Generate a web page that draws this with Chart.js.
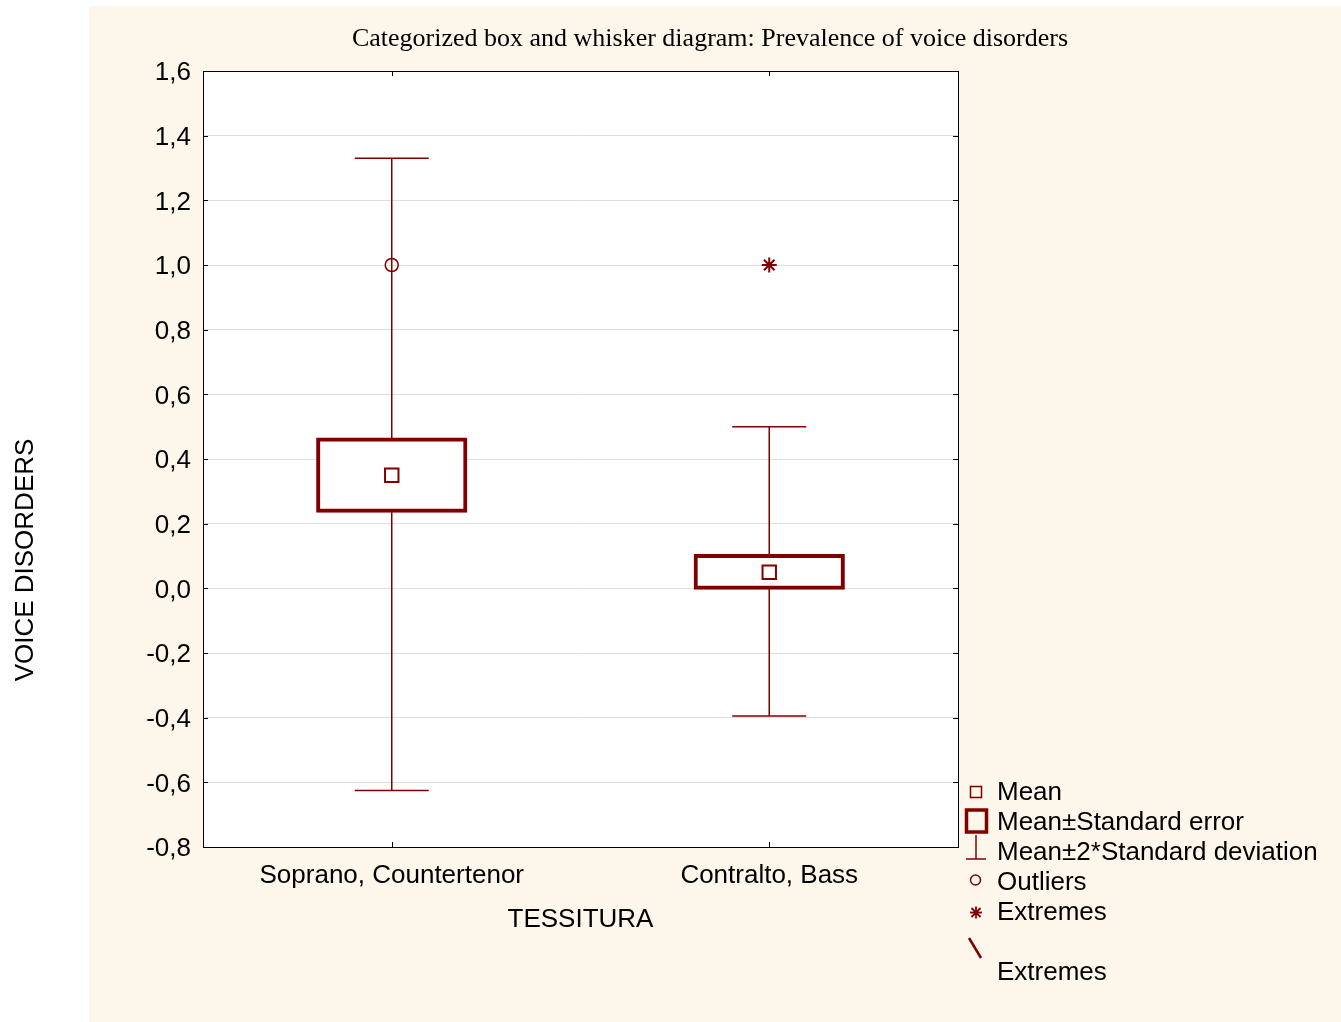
<!DOCTYPE html>
<html>
<head>
<meta charset="utf-8">
<title>Prevalence of voice disorders</title>
<script src="https://cdn.jsdelivr.net/npm/chart.js@4.4.1/dist/chart.umd.min.js"></script>
<style>
    html, body { margin: 0; padding: 0; background: #fff; }
    #chart { display: block; }
</style>
</head>
<body>
<canvas id="chart" width="1341" height="1022"></canvas>
<script>
// Categorized box and whisker diagram
// ===================================

var categories = ['Soprano, Countertenor', 'Contralto, Bass'];
var means      = [0.35, 0.05];
var seLow      = [0.24, 0.00];   // Mean - Standard error
var seHigh     = [0.46, 0.10];   // Mean + Standard error
var sdLow      = [-0.625, -0.395]; // Mean - 2*Standard deviation
var sdHigh     = [1.33, 0.50];   // Mean + 2*Standard deviation
var outliers   = [1.0, null];
var extremes   = [null, 1.0];
var yTickValues = [-0.8, -0.6, -0.4, -0.2, 0, 0.2, 0.4, 0.6, 0.8, 1.0, 1.2, 1.4, 1.6];
var legendLabels = ['Mean', 'Mean\u00b1Standard error', 'Mean\u00b12*Standard deviation', 'Outliers', 'Extremes', 'Extremes'];

var RED = '#800000';
var PANEL = '#fdf6ea';
var SANS = "'Liberation Sans', Arial, sans-serif";
var SERIF = "'Liberation Serif', 'Times New Roman', serif";

function formatTick(v) {
    if (Math.abs(v) < 1e-9) { v = 0; }
    return v.toFixed(1).replace('.', ',');
}

function line(ctx, x1, y1, x2, y2) {
    ctx.beginPath();
    ctx.moveTo(x1, y1);
    ctx.lineTo(x2, y2);
    ctx.stroke();
}

var boxPlotExtras = {
    id: 'boxPlotExtras'
    , beforeDraw: function (chart) {
        var ctx = chart.ctx, a = chart.chartArea;
        ctx.save();
        ctx.fillStyle = '#fff';
        ctx.fillRect(0, 0, chart.width, chart.height);
        ctx.fillStyle = PANEL;
        ctx.fillRect(89, 6, chart.width - 89, chart.height - 6);
        ctx.fillStyle = '#fff';
        ctx.fillRect(a.left, a.top, a.right - a.left, a.bottom - a.top);
        ctx.restore();
    }
    , beforeDatasetsDraw: function (chart) {
        // whiskers: Mean±2*SD, drawn under the boxes
        var ctx = chart.ctx, xs = chart.scales.x, ys = chart.scales.y;
        var capHalf = (xs.width / categories.length) * 0.098;
        ctx.save();
        ctx.strokeStyle = RED;
        ctx.lineWidth = 1.5;
        categories.forEach(function (c, i) {
            var x = xs.getPixelForValue(i);
            var yLo = ys.getPixelForValue(sdLow[i]);
            var yHi = ys.getPixelForValue(sdHigh[i]);
            line(ctx, x, yLo, x, yHi);
            line(ctx, x - capHalf, yLo, x + capHalf, yLo);
            line(ctx, x - capHalf, yHi, x + capHalf, yHi);
        });
        ctx.restore();
    }
    , afterDraw: function (chart) {
        var ctx = chart.ctx, a = chart.chartArea, xs = chart.scales.x, ys = chart.scales.y;
        ctx.save();

        // frame and inward tick marks
        ctx.strokeStyle = '#000';
        ctx.lineWidth = 1;
        ctx.strokeRect(a.left + 0.5, a.top + 0.5, a.right - a.left, a.bottom - a.top);
        ys.ticks.forEach(function (t) {
            var y = Math.round(ys.getPixelForValue(t.value)) + 0.5;
            line(ctx, a.left, y, a.left + 5, y);
            line(ctx, a.right - 5, y, a.right, y);
        });
        categories.forEach(function (c, i) {
            var x = Math.round(xs.getPixelForValue(i)) + 0.5;
            line(ctx, x, a.bottom, x, a.bottom - 5);
            line(ctx, x, a.top, x, a.top + 5);
        });

        // y axis title
        ctx.fillStyle = '#000';
        ctx.font = '26px ' + SANS;
        ctx.textAlign = 'center';
        ctx.textBaseline = 'middle';
        ctx.translate(26, 560);
        ctx.rotate(-Math.PI / 2);
        ctx.fillText('VOICE DISORDERS', 0, 0);
        ctx.setTransform(1, 0, 0, 1, 0, 0);

        // legend
        var sx = 976, tx = 997;
        var rows = [792, 822, 852, 882, 912, 972];
        ctx.strokeStyle = RED;
        ctx.lineWidth = 1.5;
        ctx.strokeRect(sx - 5.5, rows[0] - 5.5, 11, 11);
        ctx.lineWidth = 3.5;
        ctx.strokeRect(sx - 9.5, 810, 20, 22);
        ctx.lineWidth = 1.5;
        line(ctx, sx, 835, sx, 859);
        line(ctx, sx - 10, 859, sx + 10, 859);
        ctx.beginPath();
        ctx.arc(sx - 0.5, 880, 5, 0, Math.PI * 2);
        ctx.stroke();
        ctx.lineWidth = 1.8;
        line(ctx, sx - 6, 912.5, sx + 6, 912.5);
        line(ctx, sx, 906.5, sx, 918.5);
        line(ctx, sx - 4.5, 908, sx + 4.5, 917);
        line(ctx, sx - 4.5, 917, sx + 4.5, 908);
        ctx.lineWidth = 2.5;
        line(ctx, sx - 7, 938, sx + 5, 958);

        ctx.fillStyle = '#000';
        ctx.font = '26px ' + SANS;
        ctx.textAlign = 'left';
        ctx.textBaseline = 'middle';
        legendLabels.forEach(function (lbl, i) {
            ctx.fillText(lbl, tx, rows[i] + 1);
        });
        ctx.restore();
    }
};

var chart = new Chart(document.getElementById('chart'), {
    type: 'bar'
    , data: {
        labels: categories
        , datasets: [
            {
                type: 'line', label: 'Mean', data: means, showLine: false
                , pointStyle: 'rect', pointRadius: 9.5, pointBorderWidth: 2
                , pointBorderColor: RED, pointBackgroundColor: '#fff', order: 0
            }
            , {
                type: 'line', label: 'Outliers', data: outliers, showLine: false
                , pointStyle: 'circle', pointRadius: 6.5, pointBorderWidth: 1.5
                , pointBorderColor: RED, pointBackgroundColor: 'rgba(0,0,0,0)', order: 0
            }
            , {
                type: 'line', label: 'Extremes', data: extremes, showLine: false
                , pointStyle: 'star', pointRadius: 7.5, pointBorderWidth: 2
                , pointBorderColor: RED, pointBackgroundColor: RED, order: 0
            }
            , {
                type: 'bar', label: 'Mean\u00b1Standard error'
                , data: seLow.map(function (v, i) { return [v, seHigh[i]]; })
                , backgroundColor: '#fff', borderColor: RED, borderWidth: 4
                , borderSkipped: false, inflateAmount: 2
                , barPercentage: 0.39, categoryPercentage: 1, order: 1
            }
        ]
    }
    , plugins: [boxPlotExtras]
    , options: {
        responsive: false
        , animation: false
        , events: []
        , layout: { padding: { left: 79, right: 0, top: 0, bottom: 75 } }
        , plugins: {
            legend: { display: false }
            , tooltip: { enabled: false }
            , title: {
                display: true
                , text: 'Categorized box and whisker diagram: Prevalence of voice disorders'
                , color: '#000'
                , font: { family: SERIF, size: 26, weight: 'normal' }
                , padding: { top: 23.4, bottom: 16.4 }
            }
        }
        , scales: {
            x: {
                type: 'category'
                , offset: true
                , grid: { display: false }
                , border: { display: false }
                , ticks: { color: '#000', font: { family: SANS, size: 26 }, padding: 5, maxRotation: 0, autoSkip: false }
                , title: {
                    display: true, text: 'TESSITURA', color: '#000'
                    , font: { family: SANS, size: 26 }, padding: { top: 0, bottom: 11.4 }
                }
                , afterFit: function (s) { s.height = 100; }
            }
            , y: {
                position: 'left'
                , min: -0.8
                , max: 1.6
                , afterBuildTicks: function (s) {
                    s.ticks = yTickValues.map(function (v) { return { value: v }; });
                }
                , grid: { color: '#dedede', lineWidth: 1, drawTicks: false }
                , border: { display: false }
                , ticks: { color: '#000', font: { family: SANS, size: 26 }, padding: 12, labelOffset: 2, callback: formatTick }
                , afterFit: function (s) { s.width = 124; }
            }
            , y2: {
                position: 'right'
                , min: -0.8
                , max: 1.6
                , grid: { display: false }
                , border: { display: false }
                , ticks: { display: false }
                , afterFit: function (s) { s.width = 383; }
            }
        }
    }
});
</script>
</body>
</html>
